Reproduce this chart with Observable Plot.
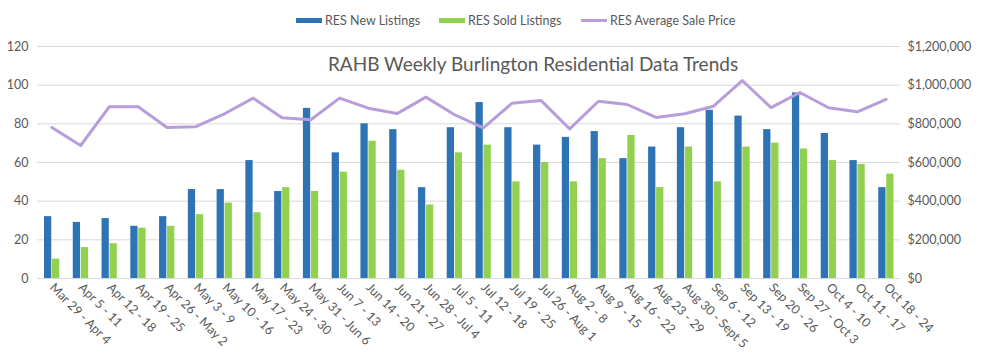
<!DOCTYPE html>
<html>
<head>
<meta charset="utf-8">
<script src="https://cdn.jsdelivr.net/npm/d3@7"></script>
<script src="https://cdn.jsdelivr.net/npm/@observablehq/plot@0.6"></script>
<style>
  body { margin: 0; background: #fff; font-family: Lato, "Open Sans", sans-serif; }
  #wrap { position: relative; width: 1000px; height: 354px; }
  #legend { position: absolute; top: 12px; left: 0; width: 1000px; height: 16px; font-size: 12.5px; color: #595959; }
  .item { position: absolute; top: 0; display: flex; align-items: center; height: 16px; }
  .sw { display: inline-block; width: 26px; margin-right: 3px; }
</style>
</head>
<body>
<div id="wrap">
  <div id="legend"></div>
  <div id="chart"></div>
</div>
<script>
const categories = ["Mar 29 - Apr 4","Apr 5 - 11","Apr 12 - 18","Apr 19 - 25","Apr 26 - May 2","May 3 - 9","May 10 - 16","May 17 - 23","May 24 - 30","May 31 - Jun 6","Jun 7 - 13","Jun 14 - 20","Jun 21 - 27","Jun 28 - Jul 4","Jul 5 - 11","Jul 12 - 18","Jul 19 - 25","Jul 26 - Aug 1","Aug 2 - 8","Aug 9 - 15","Aug 16 - 22","Aug 23 - 29","Aug 30 - Sept 5","Sep 6 - 12","Sep 13 - 19","Sep 20 - 26","Sep 27 - Oct 3","Oct 4 - 10","Oct 11 - 17","Oct 18 - 24"];
const newListings = [32,29,31,27,32,46,46,61,45,88,65,80,77,47,78,91,78,69,73,76,62,68,78,87,84,77,96,75,61,47];
const soldListings = [10,16,18,26,27,33,39,34,47,45,55,71,56,38,65,69,50,60,50,62,74,47,68,50,68,70,67,61,59,54];
const avgPrice = [781000,688000,889000,888000,781000,785000,852000,933000,831000,821000,933000,881000,853000,938000,847000,779000,907000,921000,774000,917000,900000,833000,852000,891000,1024000,884000,962000,883000,862000,927000];
const leftTicks = [0,20,40,60,80,100,120];
const rightTicks = [0,200000,400000,600000,800000,1000000,1200000];
const seriesNames = ["RES New Listings","RES Sold Listings","RES Average Sale Price"];
const colors = ["#2e74b5","#92d050","#b89ddb"];
const title = "RAHB Weekly Burlington Residential Data Trends";

const rows = categories.map((c, i) => ({c, n: newListings[i], s: soldListings[i], p: avgPrice[i]}));
const ratio = 120 / 1200000;

const chart = Plot.plot({
  width: 1000,
  height: 354,
  marginLeft: 37,
  marginRight: 100,
  marginTop: 46,
  marginBottom: 76,
  style: {fontFamily: "Lato, 'Open Sans', sans-serif", fontSize: "12.5px", color: "#595959"},
  x: {domain: categories, padding: 0, round: false, label: null},
  y: {domain: [0, 120], label: null},
  marks: [
    Plot.gridY(leftTicks, {stroke: "#d9d9d9", strokeOpacity: 1, strokeWidth: 1}),
    Plot.axisY(leftTicks, {anchor: "left", tickSize: 0, tickPadding: 9, label: null, fill: "#595959"}),
    Plot.axisY(rightTicks.map(v => v * ratio), {anchor: "right", tickSize: 0, tickPadding: 7, label: null, textAnchor: "start", fill: "#595959",
      tickFormat: d => "$" + d3.format(",")(Math.round(d / ratio))}),
    Plot.axisX({anchor: "bottom", tickSize: 0, tickPadding: 7, tickRotate: 45, label: null, fill: "#595959"}),
    Plot.barY(rows, {x: "c", y: "n", fill: colors[0], insetLeft: 7, insetRight: 14.5}),
    Plot.barY(rows, {x: "c", y: "s", fill: colors[1], insetLeft: 15, insetRight: 6.5}),
    Plot.line(rows, {x: "c", y: d => d.p * ratio, stroke: colors[2], strokeWidth: 3, strokeLinejoin: "round"}),
    Plot.text([title], {frameAnchor: "top", dy: 11, dx: 64, fontSize: 19, fill: "#595959"})
  ]
});
document.getElementById("chart").appendChild(chart);

const legend = document.getElementById("legend");
const pos = [296, 439, 581];
seriesNames.forEach((name, i) => {
  const it = document.createElement("div");
  it.className = "item";
  it.style.left = pos[i] + "px";
  const sw = document.createElement("span");
  sw.className = "sw";
  sw.style.height = i === 2 ? "3px" : "5px";
  sw.style.background = colors[i];
  it.appendChild(sw);
  it.appendChild(document.createTextNode(name));
  legend.appendChild(it);
});
</script>
</body>
</html>
